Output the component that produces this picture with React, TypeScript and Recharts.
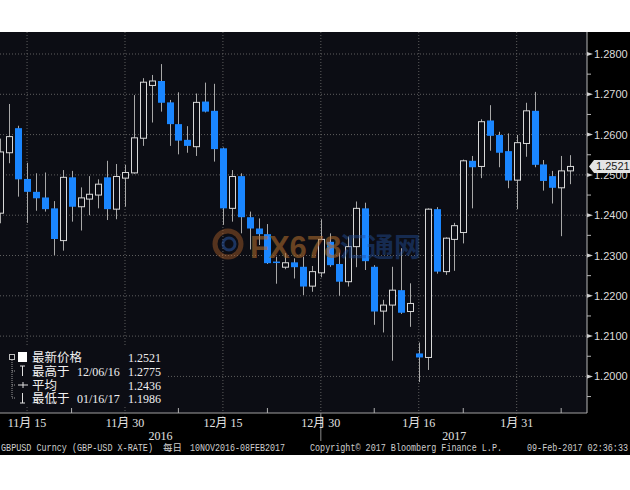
import { ComposedChart, Bar, XAxis, YAxis, CartesianGrid } from "recharts";

// trading days, 10 Nov 2016 - 08 Feb 2017
const days = [
  "11/10", "11/11", "11/14", "11/15", "11/16", "11/17", "11/18", "11/21", "11/22", "11/23",
  "11/24", "11/25", "11/28", "11/29", "11/30", "12/01", "12/02", "12/05", "12/06", "12/07",
  "12/08", "12/09", "12/12", "12/13", "12/14", "12/15", "12/16", "12/19", "12/20", "12/21",
  "12/22", "12/23", "12/26", "12/27", "12/28", "12/29", "12/30", "1/02", "1/03", "1/04",
  "1/05", "1/06", "1/09", "1/10", "1/11", "1/12", "1/13", "1/16", "1/17", "1/18",
  "1/19", "1/20", "1/23", "1/24", "1/25", "1/26", "1/27", "1/30", "1/31", "2/01",
  "2/02", "2/03", "2/06", "2/07", "2/08",
];

const openPx = [
  1.2405, 1.2555, 1.2616, 1.249, 1.2458, 1.2444, 1.2417, 1.2337, 1.2494, 1.2421,
  1.244, 1.245, 1.2494, 1.2415, 1.2492, 1.2505, 1.2591, 1.2722, 1.2733, 1.268,
  1.2626, 1.2587, 1.257, 1.2682, 1.2659, 1.2566, 1.2417, 1.2497, 1.2395, 1.2367,
  1.2353, 1.2285, 1.2271, 1.2283, 1.2272, 1.2224, 1.2257, 1.2334, 1.2279, 1.2235,
  1.2322, 1.2417, 1.2272, 1.2162, 1.2177, 1.2214, 1.2161, 1.2057, 1.2047, 1.2415,
  1.226, 1.234, 1.2357, 1.2535, 1.2521, 1.2635, 1.2599, 1.2559, 1.2487, 1.2578,
  1.2659, 1.2526, 1.2497, 1.2468, 1.251,
];
const highPx = [
  1.259, 1.2676, 1.2622, 1.253, 1.2504, 1.2506, 1.2435, 1.2512, 1.251, 1.2469,
  1.2497, 1.2489, 1.2535, 1.2527, 1.2525, 1.2698, 1.274, 1.2748, 1.2775, 1.2686,
  1.2705, 1.2621, 1.2702, 1.2729, 1.2726, 1.2568, 1.2512, 1.2504, 1.2409, 1.2392,
  1.2378, 1.2297, 1.2306, 1.2293, 1.2297, 1.2274, 1.239, 1.2355, 1.2307, 1.2347,
  1.2434, 1.2431, 1.2276, 1.219, 1.2272, 1.2318, 1.2231, 1.2084, 1.2417, 1.242,
  1.2345, 1.2381, 1.2538, 1.2547, 1.2638, 1.2673, 1.2607, 1.2603, 1.2599, 1.2679,
  1.2706, 1.2537, 1.251, 1.2547, 1.2549,
];
const lowPx = [
  1.238, 1.2529, 1.2446, 1.2381, 1.2411, 1.2409, 1.2301, 1.2312, 1.2384, 1.2362,
  1.24, 1.2417, 1.2388, 1.239, 1.2421, 1.2503, 1.2572, 1.263, 1.2657, 1.2572,
  1.2551, 1.2555, 1.2547, 1.2655, 1.2533, 1.2376, 1.2384, 1.2355, 1.2315, 1.2326,
  1.2279, 1.223, 1.2266, 1.2243, 1.2202, 1.221, 1.2246, 1.2272, 1.22, 1.2223,
  1.2271, 1.2264, 1.2128, 1.2109, 1.2039, 1.2155, 1.2123, 1.1986, 1.2016, 1.2255,
  1.2252, 1.2262, 1.233, 1.2417, 1.2492, 1.256, 1.2519, 1.2467, 1.2415, 1.2545,
  1.2519, 1.2461, 1.2429, 1.2348, 1.2477,
];
const closePx = [
  1.2557, 1.2595, 1.2489, 1.2458, 1.2442, 1.2415, 1.2341, 1.2494, 1.2421, 1.2443,
  1.2452, 1.2477, 1.2415, 1.2496, 1.2506, 1.2592, 1.273, 1.2733, 1.2679, 1.2626,
  1.2585, 1.2572, 1.268, 1.2657, 1.2564, 1.2417, 1.2496, 1.2395, 1.2367, 1.2353,
  1.2281, 1.2283, 1.2282, 1.2271, 1.2223, 1.226, 1.234, 1.2276, 1.2235, 1.2322,
  1.2417, 1.2286, 1.2161, 1.2177, 1.2214, 1.2158, 1.2181, 1.2047, 1.2415, 1.226,
  1.2343, 1.2374, 1.2535, 1.2519, 1.2632, 1.2597, 1.2555, 1.2486, 1.258, 1.2659,
  1.2525, 1.2485, 1.2468, 1.251, 1.2521,
];

const dateTicks = ["11/15", "11/30", "12/15", "12/30", "1/16", "1/31"];
const dateTickLabels = ["11月 15", "11月 30", "12月 15", "12月 30", "1月 16", "1月 31"];
const minorDateTicks = ["11/22", "12/08", "12/22", "1/09", "1/23", "2/07"];
const yearBreak = "12/30";
const yearLabels = ["2016", "2017"];
const yearTicks = [18, 51];

const priceTicks = [1.2, 1.21, 1.22, 1.23, 1.24, 1.25, 1.26, 1.27, 1.28];
const priceMinorTicks = [1.195, 1.205, 1.215, 1.225, 1.235, 1.245, 1.255, 1.265, 1.275];
const lastPrice = 1.2521;

const legendRows = [
  { label: "最新价格", date: "", value: "1.2521" },
  { label: "最高于", date: "12/06/16", value: "1.2775" },
  { label: "平均", date: "", value: "1.2436" },
  { label: "最低于", date: "01/16/17", value: "1.1986" },
];

const data = days.map((d, i) => ({
  i,
  day: d,
  open: openPx[i],
  high: highPx[i],
  low: lowPx[i],
  close: closePx[i],
  range: [lowPx[i], highPx[i]],
}));

const tickIdx = dateTicks.map((d) => days.indexOf(d));
const minorIdx = minorDateTicks.map((d) => days.indexOf(d));
const breakIdx = days.indexOf(yearBreak);

const PLOT_BG = "#0c0d14";
const BLUE = "#1a86ff";
const serif = "'Liberation Serif', 'Noto Sans CJK SC', serif";
const sans = "'Liberation Sans', Arial, sans-serif";
const cjk = "'Noto Sans CJK SC', sans-serif";

function Candle(props: any) {
  const { x, y, width, height, payload } = props;
  const { open, close, high, low } = payload;
  const top0 = height < 0 ? y + height : y;
  const h = Math.abs(height);
  const k = h / Math.max(high - low, 1e-9);
  const cx = Math.round(x + width / 2) + 0.5;
  const bTop = top0 + (high - Math.max(open, close)) * k;
  const bBot = top0 + (high - Math.min(open, close)) * k;
  const up = close >= open;
  const bh = Math.max(bBot - bTop, 1.5);
  return (
    <g>
      <line x1={cx} x2={cx} y1={top0} y2={top0 + h} stroke="#a8a8a8" strokeWidth={1} />
      {up ? (
        <rect x={cx - 3} y={bTop} width={6} height={bh} fill={PLOT_BG} stroke="#d8d8d8" strokeWidth={1} />
      ) : (
        <rect x={cx - 3.5} y={bTop} width={7} height={bh} fill={BLUE} />
      )}
    </g>
  );
}

function PriceTick(props: any) {
  const { x, y, payload } = props;
  const v = payload.value;
  if (v === lastPrice) {
    return (
      <g>
        <path
          d={`M${x + 2},${y} L${x + 7},${y - 6.5} L${x + 43},${y - 6.5} L${x + 43},${y + 6.5} L${x + 7},${y + 6.5} Z`}
          fill="#e4e4e4"
        />
        <text x={x + 9} y={y + 4} fontSize={11} fontFamily={sans} fill="#1a1a1a">
          {v.toFixed(4)}
        </text>
      </g>
    );
  }
  if (priceTicks.includes(v)) {
    return (
      <g>
        <path d={`M${x},${y - 2} L${x + 6},${y} L${x},${y + 2} Z`} fill="#d0d0d0" />
        <text x={x + 7} y={y + 4} fontSize={11} fontFamily={sans} fill="#dcdcdc">
          {v.toFixed(4)}
        </text>
      </g>
    );
  }
  return <line x1={x} x2={x + 4} y1={y} y2={y} stroke="#b8b8b8" />;
}

function DateTick(props: any) {
  const { x, y, payload } = props;
  const k = tickIdx.indexOf(payload.value);
  if (k < 0) {
    return <line x1={x} x2={x} y1={y - 5} y2={y} stroke="#b0b0b0" />;
  }
  return (
    <g>
      <line x1={x} x2={x} y1={y} y2={y + 9} stroke="#6a6a6a" strokeDasharray="1 2" />
      {payload.value === breakIdx && (
        <line x1={x} x2={x} y1={y} y2={y + 28} stroke="#8a8a8a" />
      )}
      <text x={x} y={y + 14} textAnchor="middle" fontSize={12} fontFamily={serif} fill="#e2e2e2">
        {dateTickLabels[k]}
      </text>
    </g>
  );
}

function YearTick(props: any) {
  const { x, y, payload } = props;
  const k = yearTicks.indexOf(payload.value);
  return (
    <text x={x} y={y + 9} textAnchor="middle" fontSize={12} fontFamily={serif} fill="#e2e2e2">
      {yearLabels[k]}
    </text>
  );
}

function Legend() {
  const ys = [11, 25, 39, 52];
  return (
    <svg width={166} height={60} style={{ display: "block" }}>
      <rect x={0} y={0} width={166} height={60} fill={PLOT_BG} />
      <rect x={9.5} y={8.5} width={5} height={5} fill="none" stroke="#bdbdbd" />
      <line x1={12} x2={12} y1={14} y2={ys[3]} stroke="#9a9a9a" strokeDasharray="1 1" />
      {[1, 2, 3].map((r) => (
        <line key={r} x1={12} x2={16} y1={ys[r]} y2={ys[r]} stroke="#9a9a9a" strokeDasharray="1 1" />
      ))}
      <rect x={18} y={6} width={9} height={10} fill="#ffffff" />
      <path d={`M20,${ys[1] - 5} L25,${ys[1] - 5} M22.5,${ys[1] - 5} L22.5,${ys[1] + 5}`} stroke="#e0e0e0" />
      <path d={`M18,${ys[2]} L28,${ys[2]} M23,${ys[2] - 3} L23,${ys[2] + 3}`} stroke="#e0e0e0" />
      <path d={`M20,${ys[3] + 5} L25,${ys[3] + 5} M22.5,${ys[3] - 5} L22.5,${ys[3] + 5}`} stroke="#e0e0e0" />
      {legendRows.map((r, n) => (
        <g key={r.label} fill="#f0f0f0">
          <text x={32} y={ys[n] + 4.5} fontSize={12.5} fontFamily={cjk}>
            {r.label}
          </text>
          {r.date && (
            <text x={77} y={ys[n] + 4.5} fontSize={12} fontFamily={serif}>
              {r.date}
            </text>
          )}
          <text x={128} y={ys[n] + 4.5} fontSize={12} fontFamily={serif}>
            {r.value}
          </text>
        </g>
      ))}
    </svg>
  );
}

function Footer() {
  const f = { fontSize: 10, fontFamily: "'Liberation Mono', monospace", fill: "#cfcfcf" };
  return (
    <svg width={630} height={14} style={{ display: "block" }}>
      <rect width={630} height={14} fill="#000" />
      <text x={1} y={10} textLength={152} lengthAdjust="spacingAndGlyphs" {...f}>
        GBPUSD Curncy (GBP-USD X-RATE)
      </text>
      <text x={163} y={10} {...f} fontSize={9.5} fontFamily={cjk}>
        每日
      </text>
      <text x={190} y={10} textLength={95} lengthAdjust="spacingAndGlyphs" {...f}>
        10NOV2016-08FEB2017
      </text>
      <text x={310} y={10} textLength={192} lengthAdjust="spacingAndGlyphs" {...f}>
        Copyright© 2017 Bloomberg Finance L.P.
      </text>
      <text x={527} y={10} textLength={101} lengthAdjust="spacingAndGlyphs" {...f}>
        09-Feb-2017 02:36:33
      </text>
    </svg>
  );
}

function Watermark() {
  return (
    <svg width={230} height={40} style={{ position: "absolute", left: 208, top: 224, pointerEvents: "none" }}>
      <circle cx={20} cy={20} r={13} fill="none" stroke="#b0612a" strokeWidth={5} opacity={0.45} />
      <circle cx={21} cy={20} r={6} fill="none" stroke="#2b5cab" strokeWidth={3} opacity={0.5} />
      <text x={42} y={34} fontSize={31} fontWeight="bold" fontFamily={sans} fill="#a8682c" opacity={0.6}>
        FX678
      </text>
      <text x={132} y={33} fontSize={27} fontWeight="bold" fontFamily={cjk} fill="#24509c" opacity={0.45}>
        汇通网
      </text>
    </svg>
  );
}

export default function App() {
  const domainX: [number, number] = [-0.04, 65.9];
  return (
    <div style={{ position: "absolute", left: 0, top: 0, width: 630, height: 490, background: "#ffffff" }}>
      <div style={{ position: "absolute", left: 0, top: 32, width: 630, height: 422, background: "#000" }}>
        <ComposedChart
          width={630}
          height={422}
          data={data}
          margin={{ top: 0, right: 0, bottom: 11, left: 0 }}
        >
          <CartesianGrid
            fill={PLOT_BG}
            stroke="#5e5e5e"
            strokeDasharray="1 2"
            horizontalValues={priceTicks}
            verticalValues={tickIdx}
          />
          <XAxis
            dataKey="i"
            type="number"
            domain={domainX}
            allowDataOverflow
            ticks={[...minorIdx, ...tickIdx]}
            interval={0}
            tick={<DateTick />}
            tickLine={false}
            tickSize={0}
            tickMargin={0}
            axisLine={{ stroke: "#a0a0a0" }}
            height={18}
          />
          <XAxis
            xAxisId="year"
            dataKey="i"
            type="number"
            domain={domainX}
            allowDataOverflow
            ticks={yearTicks}
            interval={0}
            tick={<YearTick />}
            tickLine={false}
            tickSize={0}
            tickMargin={0}
            axisLine={false}
            height={12}
          />
          <YAxis
            orientation="right"
            type="number"
            domain={[1.19092, 1.28546]}
            allowDataOverflow
            ticks={[...priceMinorTicks, ...priceTicks, lastPrice]}
            interval={0}
            tick={<PriceTick />}
            tickLine={false}
            tickSize={0}
            tickMargin={0}
            axisLine={{ stroke: "#b8b8b8" }}
            width={43}
          />
          <Bar dataKey="range" barSize={7} shape={<Candle />} isAnimationActive={false} />
        </ComposedChart>
      </div>
      <div style={{ position: "absolute", left: 0, top: 346 }}>
        <Legend />
      </div>
      <div style={{ position: "absolute", left: 0, top: 441 }}>
        <Footer />
      </div>
      <Watermark />
    </div>
  );
}
